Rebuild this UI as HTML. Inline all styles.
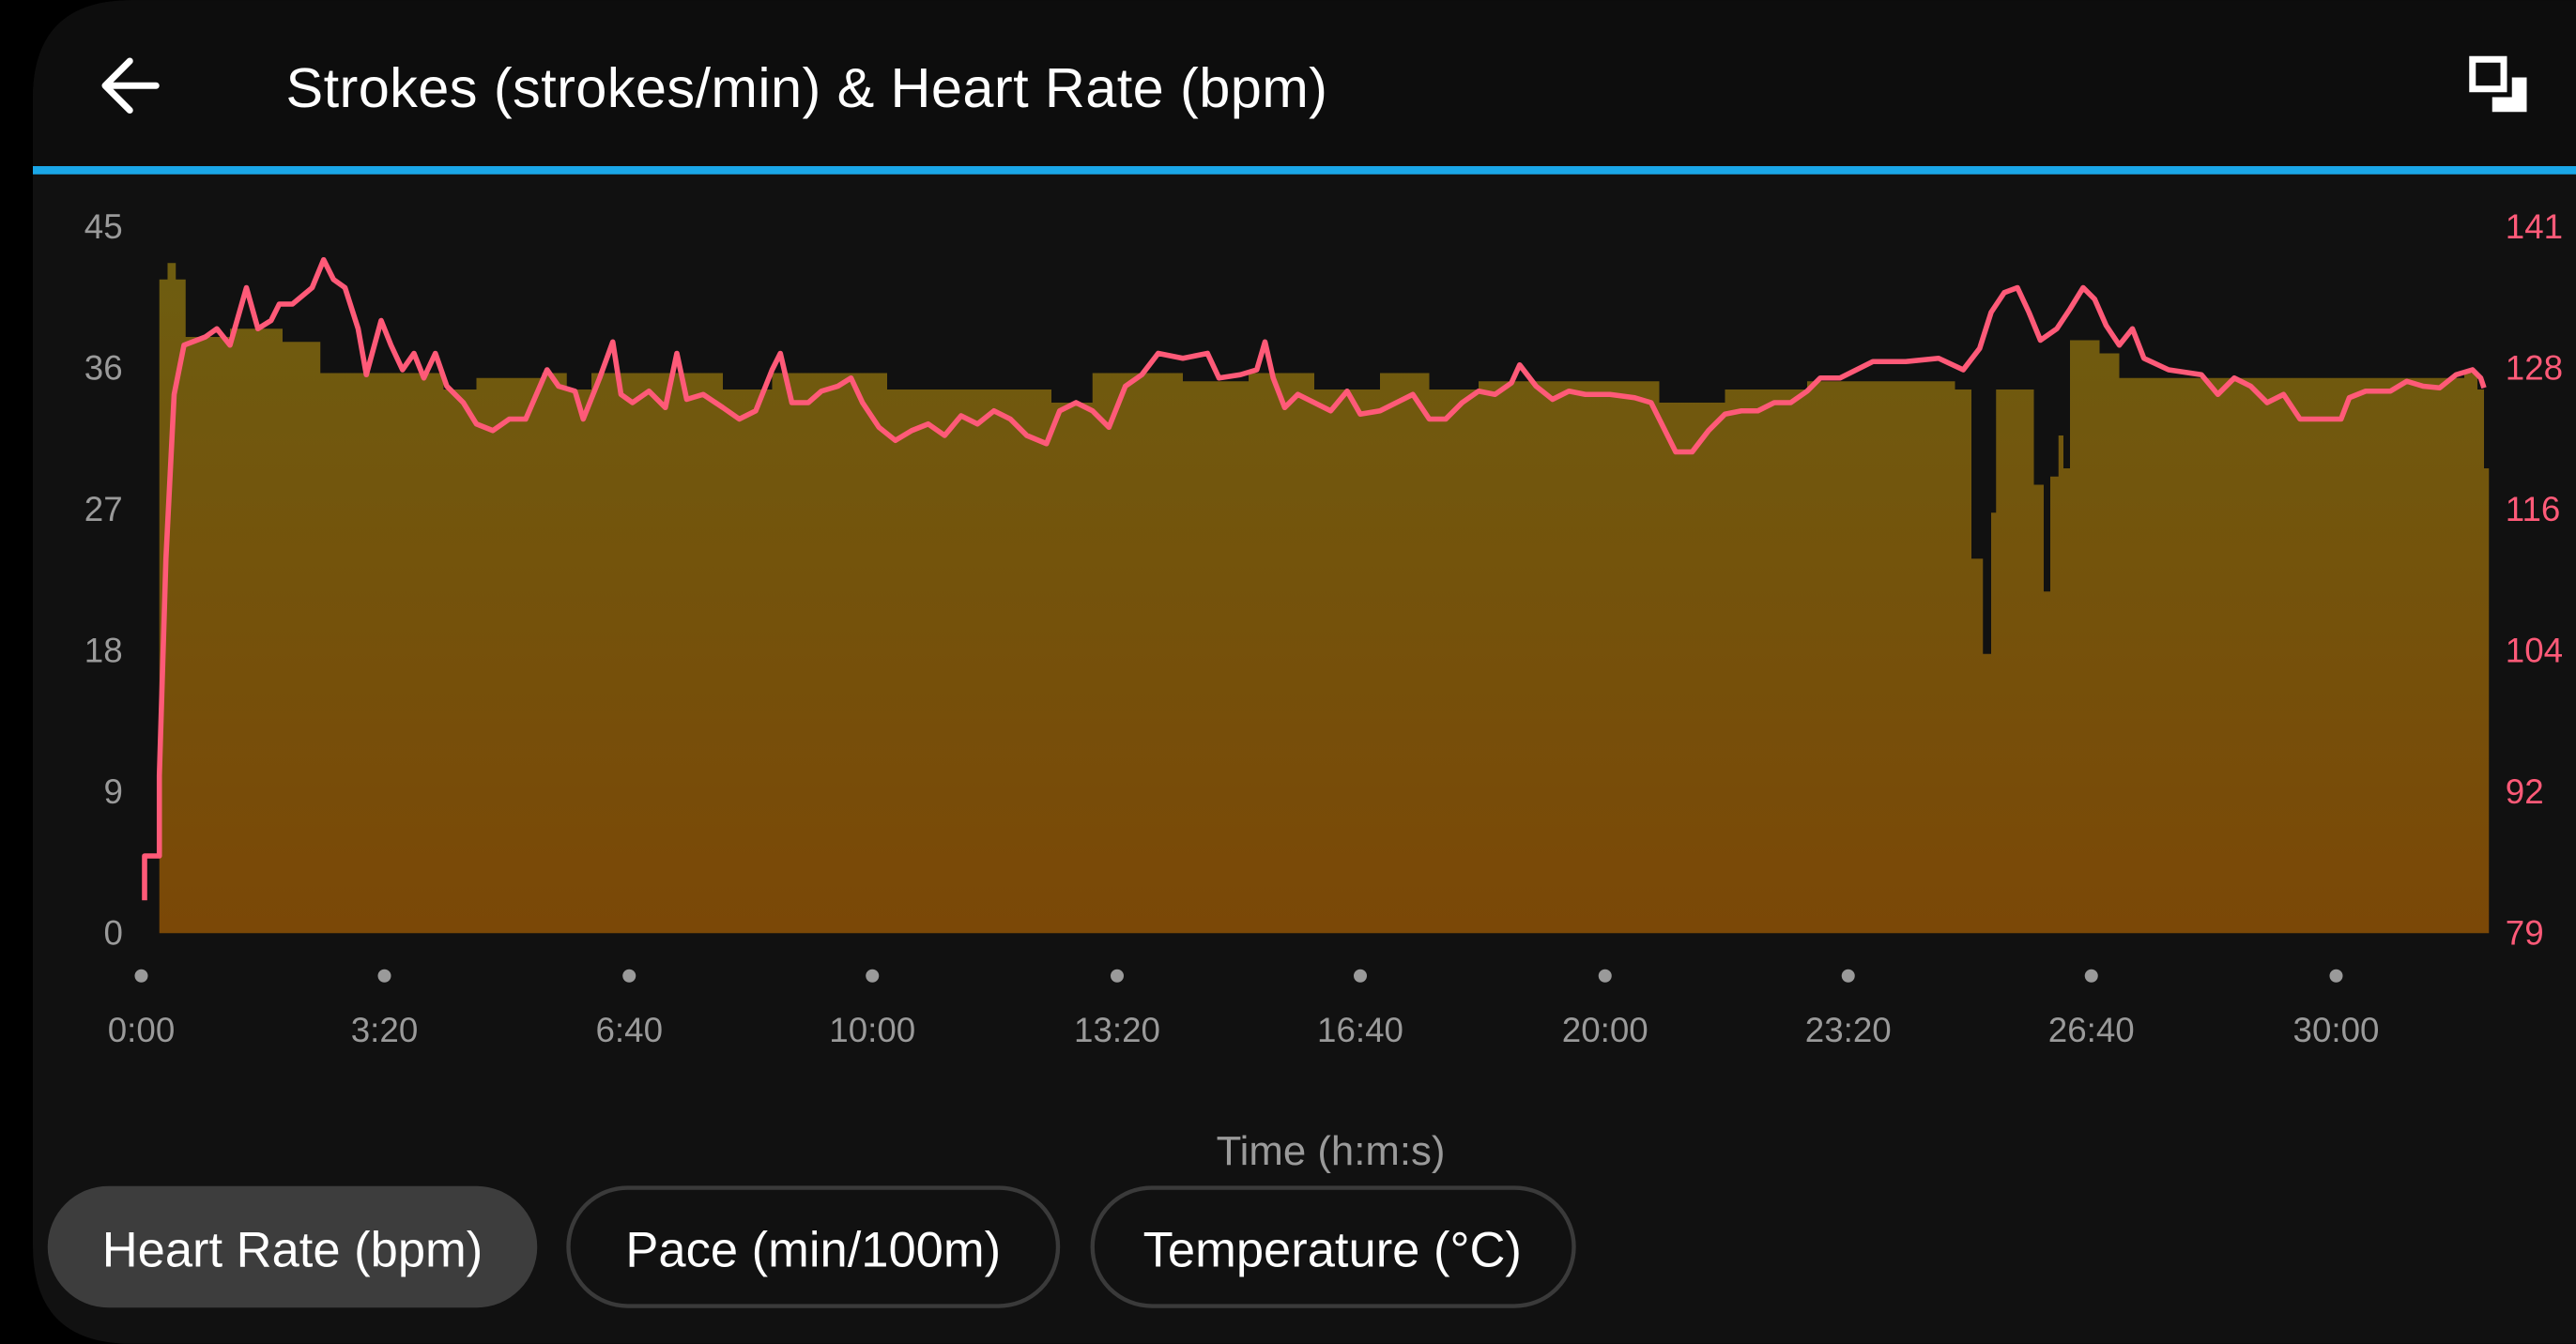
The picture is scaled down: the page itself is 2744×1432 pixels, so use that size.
<!DOCTYPE html>
<html><head><meta charset="utf-8"><style>
html,body{margin:0;padding:0;background:#000;width:2744px;height:1432px;overflow:hidden}
svg{display:block;overflow:hidden}
text{font-family:"Liberation Sans",sans-serif}
</style></head><body>
<svg width="2744" height="1432" viewBox="0 0 1568 818" xmlns="http://www.w3.org/2000/svg">
<defs>
<linearGradient id="g" gradientUnits="userSpaceOnUse" x1="0" y1="160" x2="0" y2="568">
<stop offset="0" stop-color="#6e5d10"/><stop offset="1" stop-color="#7b4807"/>
</linearGradient>
</defs>
<rect width="1568" height="818" fill="#000"/>
<path d="M80 0 H1568 V818 H80 Q20 818 20 758 V60 Q20 0 80 0Z" fill="#111"/>
<path d="M80 0 H1568 V103 H20 V60 Q20 0 80 0Z" fill="#0d0d0d"/>
<rect x="20" y="101" width="1548" height="5" fill="#1aa7e8"/>
<path d="M95 52 H64 M79 37 L64 52 L79 67" stroke="#fff" stroke-width="4" fill="none" stroke-linecap="round" stroke-linejoin="round"/>
<text x="174" y="65" font-size="34" fill="#fff" textLength="634">Strokes (strokes/min) &amp; Heart Rate (bpm)</text>
<rect x="1505" y="36" width="19" height="18" fill="none" stroke="#fff" stroke-width="4"/>
<path d="M1517 68 H1538 V47 H1529 V59 H1517Z" fill="#fff"/>
<g font-size="21" fill="#9a9a9a" text-anchor="middle">
<text x="63" y="145">45</text><text x="63" y="231">36</text><text x="63" y="317">27</text><text x="63" y="403">18</text><text x="69" y="489">9</text><text x="69" y="575">0</text>
</g>
<g font-size="21" fill="#ff5a78">
<text x="1525" y="145">141</text><text x="1525" y="231">128</text><text x="1525" y="317">116</text><text x="1525" y="403">104</text><text x="1525" y="489">92</text><text x="1525" y="575">79</text>
</g>
<path fill="url(#g)" d="M97 568 V170 H102 V160 H107 V170 H113 V205 H140 V200 H172 V208 H195 V227 H270 V237 H290 V230 H330 V227 H345 V237 H360 V227 H440 V237 H470 V227 H540 V237 H555 V237 H620 V237 H640 V245 H665 V227 H720 V232 H760 V227 H800 V237 H840 V227 H870 V237 H900 V232 H1010 V245 H1050 V237 H1100 V232 H1190 V237 H1200 V340 H1207 V398 H1212 V312 H1215 V237 H1238 V295 H1244 V360 H1248 V290 H1253 V265 H1256 V285 H1260 V207 H1278 V215 H1290 V230 H1500 V227 H1508 V237 H1512 V285 H1515 V568Z"/>
<path fill="none" stroke="#ff5a78" stroke-width="3.2" stroke-linejoin="round" d="M88 548 V521 H97 V472 L101 340 L106 240 L112 210 L125 205 L132 200 L140 210 L150 175 L157 200 L165 195 L170 185 L178 185 L190 175 L197 158 L203 170 L210 175 L218 200 L223 228 L232 195 L238 210 L245 225 L252 215 L258 230 L265 215 L272 235 L282 245 L290 258 L300 262 L310 255 L320 255 L333 225 L340 235 L350 238 L355 255 L365 230 L373 208 L378 240 L385 245 L395 238 L405 248 L412 215 L418 243 L428 240 L440 248 L450 255 L460 250 L470 225 L475 215 L482 245 L492 245 L500 238 L510 235 L518 230 L525 245 L535 260 L545 268 L555 262 L565 258 L575 265 L585 253 L595 258 L605 250 L615 255 L625 265 L637 270 L645 250 L655 245 L665 250 L675 260 L685 235 L695 228 L705 215 L720 218 L735 215 L742 230 L755 228 L765 225 L770 208 L775 230 L782 248 L790 240 L800 245 L810 250 L820 238 L828 252 L840 250 L850 245 L860 240 L870 255 L880 255 L890 245 L900 238 L910 240 L920 233 L925 222 L935 235 L945 243 L955 238 L965 240 L980 240 L995 242 L1005 245 L1015 265 L1020 275 L1030 275 L1040 262 L1050 252 L1060 250 L1070 250 L1080 245 L1090 245 L1100 238 L1108 230 L1120 230 L1130 225 L1140 220 L1160 220 L1180 218 L1195 225 L1205 212 L1212 190 L1220 178 L1228 175 L1235 190 L1242 207 L1252 200 L1260 188 L1268 175 L1275 182 L1282 198 L1290 210 L1298 200 L1305 218 L1320 225 L1340 228 L1350 240 L1360 230 L1370 235 L1380 245 L1390 240 L1400 255 L1425 255 L1430 242 L1440 238 L1455 238 L1465 232 L1475 235 L1485 236 L1495 228 L1505 225 L1510 230 L1512 236"/>
<g fill="#9a9a9a">
<circle cx="86" cy="594" r="4"/><circle cx="234" cy="594" r="4"/><circle cx="383" cy="594" r="4"/><circle cx="531" cy="594" r="4"/><circle cx="680" cy="594" r="4"/><circle cx="828" cy="594" r="4"/><circle cx="977" cy="594" r="4"/><circle cx="1125" cy="594" r="4"/><circle cx="1273" cy="594" r="4"/><circle cx="1422" cy="594" r="4"/>
</g>
<g font-size="21" fill="#9a9a9a" text-anchor="middle">
<text x="86" y="634">0:00</text><text x="234" y="634">3:20</text><text x="383" y="634">6:40</text><text x="531" y="634">10:00</text><text x="680" y="634">13:20</text><text x="828" y="634">16:40</text><text x="977" y="634">20:00</text><text x="1125" y="634">23:20</text><text x="1273" y="634">26:40</text><text x="1422" y="634">30:00</text>
<text x="810" y="709" font-size="25">Time (h:m:s)</text>
</g>
<rect x="29" y="722" width="298" height="74" rx="37" fill="#3d3d3d"/>
<rect x="346" y="723" width="298" height="72" rx="36" fill="none" stroke="#3a3a3a" stroke-width="2.5"/>
<rect x="665" y="723" width="293" height="72" rx="36" fill="none" stroke="#3a3a3a" stroke-width="2.5"/>
<g font-size="30" fill="#fff" text-anchor="middle">
<text x="178" y="771">Heart Rate (bpm)</text><text x="495" y="771">Pace (min/100m)</text><text x="811" y="771">Temperature (°C)</text>
</g>
</svg>
</body></html>
